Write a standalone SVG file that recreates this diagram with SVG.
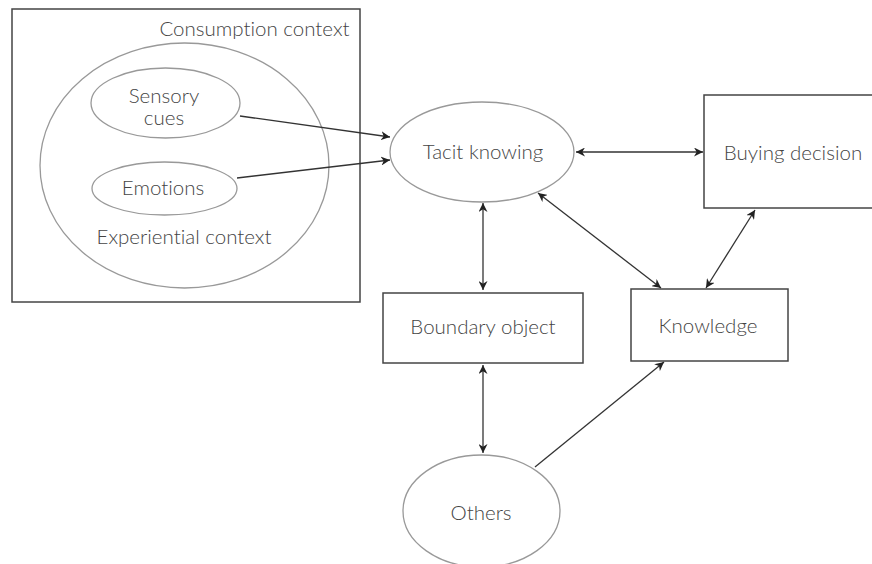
<svg xmlns="http://www.w3.org/2000/svg" width="872" height="564" viewBox="0 0 872 564">
<defs>
<marker id="ah" viewBox="0 0 10 10" refX="10" refY="5" markerWidth="9" markerHeight="9" markerUnits="userSpaceOnUse" orient="auto-start-reverse">
<path d="M0,0 L10,5 L0,10 L3,5 Z" fill="#222"/>
</marker>
</defs>
<style>
text{font-family:Lato,"Open Sans","Liberation Sans",sans-serif;font-size:20.5px;font-weight:300;fill:#444;text-anchor:middle;font-variant-ligatures:none}
.box{fill:#fff;stroke:#444;stroke-width:1.5}
.ell{fill:#fff;stroke:#999;stroke-width:1.3}
.con{fill:none;stroke:#333;stroke-width:1.3}
</style>
<g id="consumption-context">
<rect x="12" y="9" width="348" height="293" class="box"/>
<text x="254.5" y="36">Consumption context</text>
</g>
<g id="experiential-context">
<ellipse cx="184.5" cy="165.5" rx="144.5" ry="122.5" class="ell"/>
<text x="184" y="244">Experiential context</text>
</g>
<g id="sensory-cues">
<ellipse cx="165.5" cy="103" rx="74.5" ry="35" class="ell"/>
<text x="164" y="103">Sensory</text>
<text x="164" y="125">cues</text>
</g>
<g id="emotions">
<ellipse cx="164.5" cy="188.5" rx="72.5" ry="26.5" class="ell"/>
<text x="163" y="195">Emotions</text>
</g>
<g id="tacit-knowing">
<ellipse cx="482" cy="152" rx="92" ry="50" class="ell"/>
<text x="483" y="159">Tacit knowing</text>
</g>
<g id="buying-decision">
<rect x="704" y="95" width="180" height="113" class="box"/>
<text x="793" y="160">Buying decision</text>
</g>
<g id="boundary-object">
<rect x="383" y="293" width="200" height="70" class="box"/>
<text x="483" y="334">Boundary object</text>
</g>
<g id="knowledge">
<rect x="631" y="289" width="157" height="72" class="box"/>
<text x="708" y="333">Knowledge</text>
</g>
<g id="others">
<ellipse cx="481.5" cy="511" rx="78.5" ry="56" class="ell"/>
<text x="481" y="520">Others</text>
</g>
<g id="connectors">
<line x1="240" y1="116" x2="390" y2="137" class="con" marker-end="url(#ah)"/>
<line x1="237" y1="178" x2="390" y2="160" class="con" marker-end="url(#ah)"/>
<line x1="576" y1="152" x2="703" y2="152" class="con" marker-start="url(#ah)" marker-end="url(#ah)"/>
<line x1="483" y1="203" x2="483" y2="290" class="con" marker-start="url(#ah)" marker-end="url(#ah)"/>
<line x1="538" y1="193" x2="661" y2="288" class="con" marker-start="url(#ah)" marker-end="url(#ah)"/>
<line x1="755" y1="210" x2="706" y2="288" class="con" marker-start="url(#ah)" marker-end="url(#ah)"/>
<line x1="483" y1="365" x2="483" y2="453" class="con" marker-start="url(#ah)" marker-end="url(#ah)"/>
<line x1="535" y1="467" x2="664" y2="362" class="con" marker-end="url(#ah)"/>
</g>
</svg>
